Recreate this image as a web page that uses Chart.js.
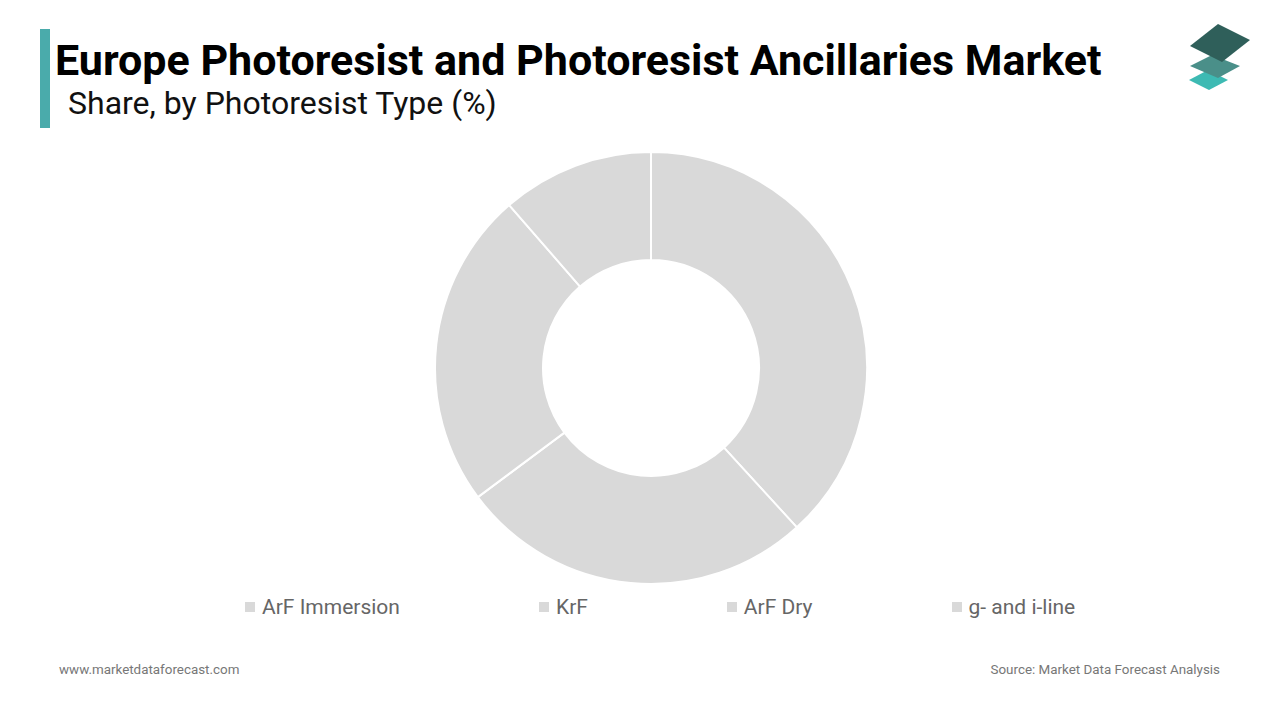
<!DOCTYPE html>
<html>
<head>
<meta charset="utf-8">
<script src="https://cdn.jsdelivr.net/npm/chart.js@4"></script>
<style>
  html, body { margin:0; padding:0; background:#fff; }
  body { width:1280px; height:720px; position:relative; overflow:hidden; font-family: Roboto, "Noto Sans", sans-serif; }
  #bar { position:absolute; left:40px; top:29px; width:10px; height:99px; background:#4aabab; }
  #title { position:absolute; left:55px; top:35px; font-size:43px; font-weight:700; color:#000; line-height:50px; white-space:nowrap; }
  #subtitle { position:absolute; left:68px; top:84px; font-size:32px; color:#111; line-height:38px; white-space:nowrap; }
  #chartBox { position:absolute; left:434px; top:151px; width:434px; height:434px; }
  #legend { position:absolute; left:245px; top:594px; height:26px; display:flex; align-items:center; gap:139px; }
  .li { display:flex; align-items:center; font-size:21px; color:#666; white-space:nowrap; }
  .sw { width:10px; height:10px; margin-right:7px; }
  #foot1 { position:absolute; left:59px; top:662px; font-size:13.4px; color:#777; }
  #foot2 { position:absolute; right:60px; top:662px; font-size:13.4px; color:#777; }
  #logo { position:absolute; left:1180px; top:18px; }
</style>
</head>
<body>
<div id="bar"></div>
<div id="title">Europe Photoresist and Photoresist Ancillaries Market</div>
<div id="subtitle">Share, by Photoresist Type (%)</div>
<svg id="logo" width="80" height="80" viewBox="0 0 80 80">
  <polygon points="9,62 28,52 48,62 29,72" fill="#3dbab3"/>
  <polygon points="10,48 32,37 60,48 38,60" fill="#4a8f89"/>
  <polygon points="10,28 38,6 70,22 42,44" fill="#2f5f5a"/>
</svg>
<div id="chartBox"><canvas id="c"></canvas></div>
<div id="legend"></div>
<div id="foot1">www.marketdataforecast.com</div>
<div id="foot2">Source: Market Data Forecast Analysis</div>
<script>
const categories = ["ArF Immersion", "KrF", "ArF Dry", "g- and i-line"];
const shares = [38.2, 26.6, 23.8, 11.4];
const sliceColors = ["#d9d9d9", "#d9d9d9", "#d9d9d9", "#d9d9d9"];

const legendEl = document.getElementById('legend');
categories.forEach((name, i) => {
  const item = document.createElement('div');
  item.className = 'li';
  const sw = document.createElement('span');
  sw.className = 'sw';
  sw.style.background = sliceColors[i];
  item.appendChild(sw);
  item.appendChild(document.createTextNode(name));
  legendEl.appendChild(item);
});

new Chart(document.getElementById('c'), {
  type: 'doughnut',
  data: {
    labels: categories,
    datasets: [{
      data: shares,
      backgroundColor: sliceColors,
      borderColor: '#ffffff',
      borderWidth: 2,
      hoverOffset: 0
    }]
  },
  options: {
    responsive: true,
    maintainAspectRatio: false,
    animation: false,
    cutout: '50%',
    layout: { padding: 0 },
    plugins: {
      legend: { display: false },
      tooltip: { enabled: false }
    }
  }
});
</script>
</body>
</html>
